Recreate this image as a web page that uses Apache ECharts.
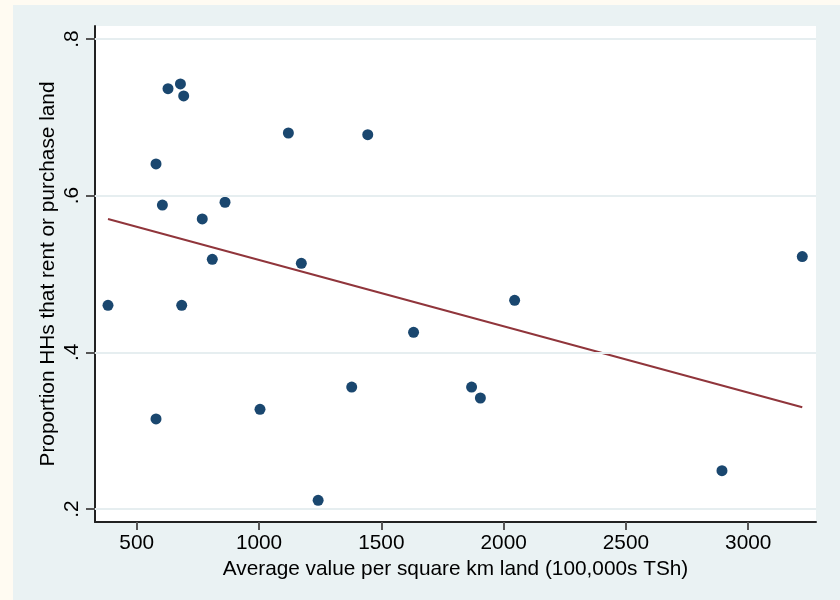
<!DOCTYPE html>
<html>
<head>
<meta charset="utf-8">
<script src="https://cdn.jsdelivr.net/npm/echarts@6/dist/echarts.min.js"></script>
<style>
html,body{margin:0;padding:0;background:#fffbf2;}
#chart{width:840px;height:600px;}
</style>
</head>
<body>
<div id="chart"></div>
<script>
// Average value per square km land (100,000s TSh)
const landValue = [382.6, 579, 579, 628, 678.7, 692, 605, 768, 861, 809, 684, 1120, 1173, 1444.5, 1004, 1241.7, 1379, 1631.8, 1869, 1905, 2045, 2892.6, 3220.9];
// Proportion HHs that rent or purchase land
const propRentPurchase = [0.460, 0.6405, 0.315, 0.7366, 0.7426, 0.7273, 0.588, 0.5703, 0.5916, 0.5188, 0.460, 0.680, 0.5137, 0.6778, 0.3273, 0.2111, 0.3557, 0.4255, 0.3557, 0.3417, 0.4664, 0.2489, 0.5222];
// Fitted values line endpoints
const fitX = [382.6, 3220.9];
const fitY = [0.5703, 0.3298];
// Tick values and labels
const xTicks = [500, 1000, 1500, 2000, 2500, 3000];
const xTickLabels = ['500', '1000', '1500', '2000', '2500', '3000'];
const yTicks = [0.2, 0.4, 0.6, 0.8];
const yTickLabels = ['.2', '.4', '.6', '.8'];

const FONT = 'Liberation Sans, Arial, Helvetica, sans-serif';
const FS = 20.8;

function lookup(ticks, labels, v) {
  for (let i = 0; i < ticks.length; i++) {
    if (Math.abs(ticks[i] - v) < 1e-9) return labels[i];
  }
  return '';
}

const chart = echarts.init(document.getElementById('chart'));
chart.setOption({
  animation: false,
  backgroundColor: '#fffbf2',
  graphic: [{
    type: 'rect', z: -10, silent: true,
    shape: {x: 13, y: 5, width: 827, height: 595},
    style: {fill: '#eaf2f3'}
  }],
  grid: {
    left: 95, top: 26, right: 24, bottom: 78,
    show: true, backgroundColor: '#ffffff', borderWidth: 0
  },
  xAxis: {
    type: 'value',
    min: 329.5, max: 3277,
    name: 'Average value per square km land (100,000s TSh)',
    nameLocation: 'middle',
    nameGap: 37,
    nameMoveOverlap: false,
    nameTextStyle: {fontFamily: FONT, fontSize: FS, color: '#000'},
    axisLine: {show: true, onZero: false, lineStyle: {color: '#222', width: 2}},
    axisTick: {show: true, length: 8, customValues: xTicks, lineStyle: {color: '#555', width: 2}},
    axisLabel: {
      customValues: xTicks, margin: 11, fontFamily: FONT, fontSize: FS, color: '#000',
      formatter: v => lookup(xTicks, xTickLabels, v)
    },
    splitLine: {show: false}
  },
  yAxis: {
    type: 'value',
    min: 0.1834, max: 0.8166,
    name: 'Proportion HHs that rent or purchase land',
    nameLocation: 'middle',
    nameGap: 36,
    nameMoveOverlap: false,
    nameTextStyle: {fontFamily: FONT, fontSize: FS, color: '#000'},
    axisLine: {show: true, onZero: false, lineStyle: {color: '#222', width: 2}},
    axisTick: {show: true, length: 9, customValues: yTicks, lineStyle: {color: '#555', width: 2}},
    axisLabel: {
      customValues: yTicks, rotate: 90, margin: 12,
      fontFamily: FONT, fontSize: FS, color: '#000',
      formatter: v => lookup(yTicks, yTickLabels, v)
    },
    splitLine: {show: false}
  },
  series: [
    {
      type: 'line',
      data: fitX.map((x, i) => [x, fitY[i]]),
      symbol: 'none',
      lineStyle: {color: '#90353b', width: 2},
      z: 2,
      markLine: {
        silent: true,
        symbol: ['none', 'none'],
        label: {show: false},
        lineStyle: {color: '#e6eef0', width: 2, type: 'solid'},
        emphasis: {disabled: true},
        data: yTicks.map(v => ({yAxis: v}))
      }
    },
    {
      type: 'scatter',
      data: landValue.map((x, i) => [x, propRentPurchase[i]]),
      symbol: 'circle',
      symbolSize: 11,
      itemStyle: {color: '#1a476f', opacity: 1},
      z: 3
    }
  ]
});
</script>
</body>
</html>
